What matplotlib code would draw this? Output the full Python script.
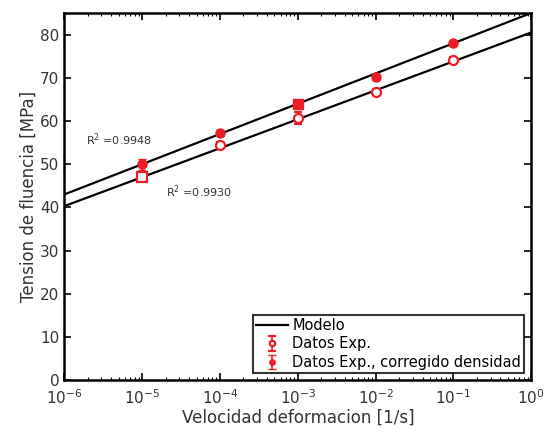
import numpy as np
import matplotlib
matplotlib.use("Agg")
import matplotlib.pyplot as plt

# datos
rate = np.array([1e-5, 1e-4, 1e-3, 1e-2, 1e-1])
y_exp = np.array([47.1, 54.5, 60.6, 66.8, 74.2])
err_exp = np.array([0.8, 0.6, 1.4, 0.7, 0.6])
mk_exp = ['s', 'o', 'o', 'o', 'o']
y_corr = np.array([50.0, 57.2, 64.0, 70.2, 78.0])
err_corr = np.array([1.3, 0.6, 0.8, 0.7, 0.6])
mk_corr = ['o', 'o', 's', 'o', 'o']

# modelo: y = a + b*log10(rate)
a_corr, b_corr = 85.0, 7.0
a_exp, b_exp = 80.5, 6.7

red = '#ee1c25'
txt = '#333333'

plt.rcParams['font.family'] = 'DejaVu Sans'
fig = plt.figure(figsize=(5.5, 4.33), dpi=100)
ax = fig.add_axes([0.117, 0.122, 0.849, 0.848])

xx = np.logspace(-6, 0, 50)
ax.plot(xx, a_corr + b_corr*np.log10(xx), color='black', lw=1.6, label='Modelo')
ax.plot(xx, a_exp + b_exp*np.log10(xx), color='black', lw=1.6)

for i in range(len(rate)):
    ax.errorbar(rate[i], y_exp[i], yerr=err_exp[i], fmt=mk_exp[i], ms=6.5, mfc='white',
                mec=red, mew=1.6, ecolor=red, elinewidth=1.2, capsize=3,
                label='Datos Exp.' if i == 1 else None)
    ax.errorbar(rate[i], y_corr[i], yerr=err_corr[i], fmt=mk_corr[i], ms=6.5, mfc=red,
                mec=red, ecolor=red, elinewidth=1.2, capsize=3,
                label='Datos Exp., corregido densidad' if i == 1 else None)

ax.text(10**-5.72, 54.5, 'R$^2$ =0.9948', fontsize=8, color=txt)
ax.text(10**-4.7, 42.5, 'R$^2$ =0.9930', fontsize=8, color=txt)

ax.set_xscale('log')
ax.set_xlim(1e-6, 1)
ax.set_ylim(0, 85)
ax.set_yticks(np.arange(0, 81, 10))
ax.set_xticks([1e-6, 1e-5, 1e-4, 1e-3, 1e-2, 1e-1, 1])
ax.tick_params(which='both', direction='in', top=True, right=True, colors='black',
               labelcolor=txt, labelsize=11)
ax.tick_params(axis='x', which='major', pad=6)
ax.tick_params(which='major', length=5, width=1.2)
ax.tick_params(which='minor', length=2.5, width=0.8)
for s in ax.spines.values():
    s.set_linewidth(1.8)

ax.set_xlabel('Velocidad deformacion [1/s]', fontsize=12, color=txt, labelpad=1)
ax.set_ylabel('Tension de fluencia [MPa]', fontsize=12, color=txt, labelpad=2)

leg = ax.legend(loc='lower right', fontsize=10.5, frameon=True, fancybox=False,
                edgecolor='black', handlelength=2.2, handletextpad=0.3,
                borderpad=0.2, labelspacing=0.25, borderaxespad=0.5, markerscale=0.6)
leg.get_frame().set_linewidth(1.5)
for t in leg.get_texts():
    t.set_color('black')

fig.savefig('out.png', dpi=100)
